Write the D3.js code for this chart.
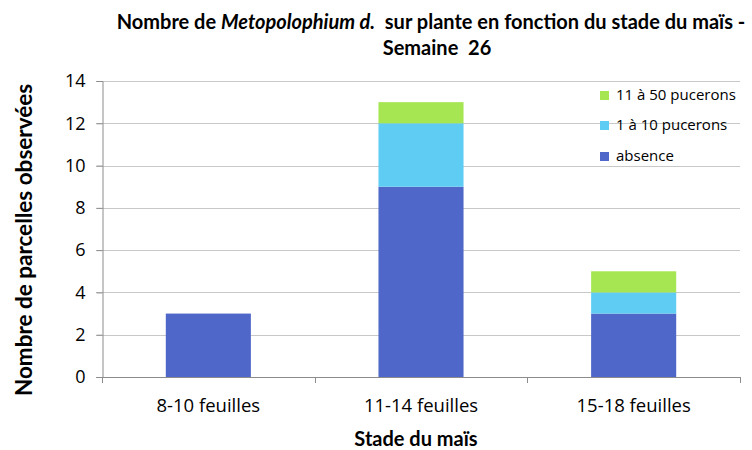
<!DOCTYPE html>
<html>
<head>
<meta charset="utf-8">
<script src="https://cdn.jsdelivr.net/npm/d3@7"></script>
<style>
  body { margin: 0; background: #fff; }
  text { font-family: Lato, "Open Sans", sans-serif; fill: #000; }
</style>
</head>
<body>
<div id="chart"></div>
<script>
// data
var stades = ["8-10 feuilles", "11-14 feuilles", "15-18 feuilles"];
var absence = [3, 9, 3];
var un_a_dix = [0, 3, 1];
var onze_a_cinquante = [0, 1, 1];
var yTicks = [0, 2, 4, 6, 8, 10, 12, 14];

var seriesNames = ["absence", "1 à 10 pucerons", "11 à 50 pucerons"];
var colors = ["#4f67c8", "#5fcdf3", "#a6e652"];

var width = 752, height = 450;
var margin = { top: 81, right: 12, bottom: 73, left: 102 };

var svg = d3.select("#chart").append("svg")
  .attr("width", width)
  .attr("height", height);

var rows = stades.map(function (s, i) {
  return { stade: s, absence: absence[i], "1 à 10 pucerons": un_a_dix[i], "11 à 50 pucerons": onze_a_cinquante[i] };
});
var stacked = d3.stack().keys(seriesNames)(rows);

var x = d3.scaleBand()
  .domain(stades)
  .range([margin.left, width - margin.right])
  .paddingInner(0.6)
  .paddingOuter(0.3);

var y = d3.scaleLinear()
  .domain([0, 14])
  .range([height - margin.bottom, margin.top]);

// gridlines
svg.append("g")
  .selectAll("line")
  .data(yTicks)
  .enter()
  .append("line")
  .attr("x1", margin.left - 6)
  .attr("x2", width - margin.right)
  .attr("y1", function (d) { return Math.round(y(d)) + 0.5; })
  .attr("y2", function (d) { return Math.round(y(d)) + 0.5; })
  .attr("stroke", function (d) { return d === 0 ? "#8c8c8c" : "#c8c8c8"; })
  .attr("stroke-width", 1);

// bars
svg.append("g")
  .selectAll("g")
  .data(stacked)
  .enter()
  .append("g")
  .attr("fill", function (d, i) { return colors[i]; })
  .selectAll("rect")
  .data(function (d) { return d; })
  .enter()
  .append("rect")
  .attr("x", function (d) { return x(d.data.stade); })
  .attr("width", x.bandwidth())
  .attr("y", function (d) { return y(d[1]); })
  .attr("height", function (d) { return y(d[0]) - y(d[1]); });

// y axis
var yAxis = svg.append("g")
  .attr("transform", "translate(" + (margin.left + 0.5) + ",0)")
  .call(d3.axisLeft(y).tickValues(yTicks).tickSize(6).tickPadding(11));
yAxis.select(".domain").attr("stroke", "#8c8c8c");
yAxis.selectAll(".tick line").attr("stroke", "#8c8c8c");
yAxis.selectAll(".tick text")
  .style("font-family", "\"Open Sans\", sans-serif")
  .style("font-size", "18px");

// x axis: ticks at category boundaries
var bounds = [0, 1, 2, 3].map(function (i) { return margin.left + i * (width - margin.left - margin.right) / 3; });
var xg = svg.append("g");
xg.selectAll("line")
  .data(bounds)
  .enter()
  .append("line")
  .attr("x1", function (d) { return Math.round(d) + 0.5; })
  .attr("x2", function (d) { return Math.round(d) + 0.5; })
  .attr("y1", y(0))
  .attr("y2", y(0) + 6)
  .attr("stroke", "#8c8c8c");
xg.selectAll("text")
  .data(stades)
  .enter()
  .append("text")
  .attr("x", function (d) { return x(d) + x.bandwidth() / 2; })
  .attr("y", 412)
  .attr("text-anchor", "middle")
  .style("font-family", "\"Open Sans\", sans-serif")
  .style("font-size", "18.5px")
  .text(function (d) { return d; });

// titles
var title = svg.append("text")
  .attr("x", 431)
  .attr("y", 29)
  .attr("text-anchor", "middle")
  .style("font-size", "20px")
  .style("font-weight", "bold");
title.append("tspan").text("Nombre de ");
title.append("tspan").style("font-style", "italic").text("Metopolophium d.");
title.append("tspan").attr("xml:space", "preserve").text("  sur plante en fonction du stade du maïs -");

svg.append("text")
  .attr("x", 437)
  .attr("y", 55)
  .attr("text-anchor", "middle")
  .attr("xml:space", "preserve")
  .style("font-size", "20px")
  .style("font-weight", "bold")
  .text("Semaine  26");

svg.append("text")
  .attr("transform", "translate(32,240) rotate(-90)")
  .attr("text-anchor", "middle")
  .style("font-size", "22.5px")
  .style("font-weight", "bold")
  .text("Nombre de parcelles observées");

svg.append("text")
  .attr("x", 416)
  .attr("y", 446)
  .attr("text-anchor", "middle")
  .style("font-size", "20px")
  .style("font-weight", "bold")
  .text("Stade du maïs");

// legend
var legendOrder = [2, 1, 0];
var legendY = [91, 121, 152];
var legend = svg.append("g");
legendOrder.forEach(function (k, i) {
  legend.append("rect")
    .attr("x", 600)
    .attr("y", legendY[i])
    .attr("width", 9)
    .attr("height", 9)
    .attr("fill", colors[k]);
  legend.append("text")
    .attr("x", 616)
    .attr("y", legendY[i] + 9)
    .style("font-family", "\"Open Sans\", sans-serif")
    .style("font-size", "15px")
    .text(seriesNames[k]);
});
</script>
</body>
</html>
